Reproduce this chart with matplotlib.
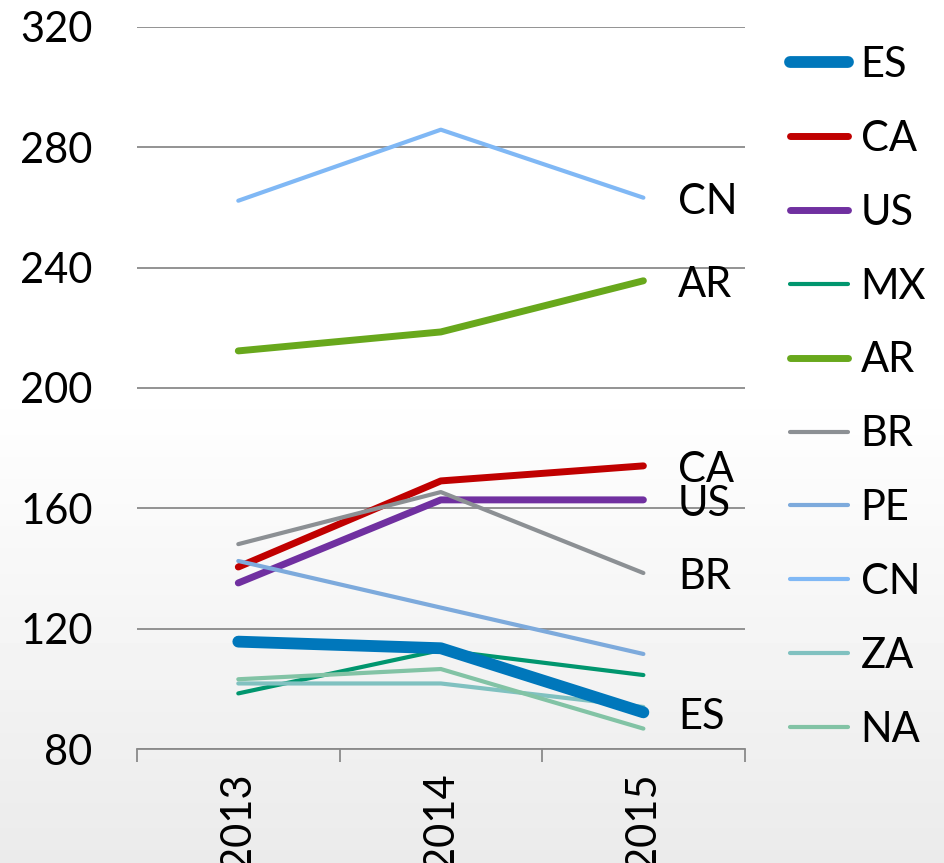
import numpy as np
import matplotlib.pyplot as plt

years = ["2013", "2014", "2015"]
series = ["ES", "CA", "US", "MX", "AR", "BR", "PE", "CN", "ZA", "NA"]
ES = [115.7, 113.5, 92.2]
CA = [140.5, 169.1, 174.1]
US = [135.2, 162.8, 162.8]
MX = [98.5, 112.9, 104.6]
AR = [212.3, 218.6, 235.6]
BR = [148.1, 165.4, 138.5]
PE = [142.5, 127.0, 111.6]
CN = [262.2, 285.8, 263.2]
ZA = [101.8, 101.8, 94.0]
NA = [103.2, 106.6, 86.8]
end_labels = ["CN", "AR", "CA", "US", "BR", "ES"]

values = {"ES": ES, "CA": CA, "US": US, "MX": MX, "AR": AR, "BR": BR,
          "PE": PE, "CN": CN, "ZA": ZA, "NA": NA}
colors = {"ES": "#0077BB", "CA": "#C00000", "US": "#7030A0", "MX": "#00966E",
          "AR": "#68A81C", "BR": "#8C9094", "PE": "#7DAADC", "CN": "#80B8F5",
          "ZA": "#80C1C0", "NA": "#82C3A5"}
widths = {"ES": 8.5, "CA": 5, "US": 5, "MX": 3, "AR": 5, "BR": 3,
          "PE": 3, "CN": 3, "ZA": 3, "NA": 3}

plt.rcParams['font.family'] = ['Lato', 'DejaVu Sans']

fig = plt.figure(figsize=(9.45, 8.63), dpi=100)

# background gradient (white top, light grey at the bottom)
bg = fig.add_axes([0, 0, 1, 1], zorder=-10)
g = np.ones((200, 1))
ramp = np.linspace(0, 1, 200)
g[:, 0] = np.where(ramp < 0.45, 1.0, 1.0 - 0.08 * ((ramp - 0.45) / 0.55))
bg.imshow(g, aspect='auto', cmap='gray', vmin=0, vmax=1, extent=[0, 1, 0, 1])
bg.axis('off')

ax = fig.add_axes([0.145, 0.132, 0.643, 0.837])
ax.patch.set_alpha(0)
x = np.arange(len(years))

# thin lines first, thick ES on top
order = ["CN", "AR", "CA", "US", "BR", "PE", "MX", "ZA", "NA", "ES"]
handles = {}
for s in order:
    ln, = ax.plot(x, values[s], color=colors[s], lw=widths[s],
                  solid_capstyle='round', solid_joinstyle='round', label=s)
    handles[s] = ln

for s in end_labels:
    ax.annotate(s, (x[-1], values[s][-1]), xytext=(25, -3),
                textcoords='offset points', va='center', ha='left', fontsize=30)

ax.set_xlim(-0.5, 2.5)
ax.set_ylim(80, 320)
ax.set_yticks(np.arange(80, 321, 40))
ax.yaxis.grid(True, color='#8a8a8a', lw=1.3)
ax.set_axisbelow(True)
ax.tick_params(axis='y', length=0, pad=32, labelsize=30)

ax.set_xticks([-0.5, 0.5, 1.5, 2.5])
ax.set_xticklabels([])
ax.tick_params(axis='x', which='major', length=9, width=1.3, color='#8a8a8a')
ax.set_xticks(x, minor=True)
ax.set_xticklabels(years, minor=True, rotation=90, va='top', ha='center')
ax.tick_params(axis='x', which='minor', length=0, pad=17, labelsize=30)

for sp in ['top', 'right', 'left']:
    ax.spines[sp].set_visible(False)
ax.spines['bottom'].set_color('#8a8a8a')
ax.spines['bottom'].set_linewidth(1.3)

leg = fig.legend([handles[s] for s in series], series, loc='upper left',
                 bbox_to_anchor=(0.818, 0.966), frameon=False, fontsize=30,
                 handlelength=1.4, handletextpad=0.3, labelspacing=0.86,
                 borderaxespad=0)
for lh in leg.get_lines():
    lh.set_solid_capstyle('round')

fig.savefig("out.png", dpi=100)
